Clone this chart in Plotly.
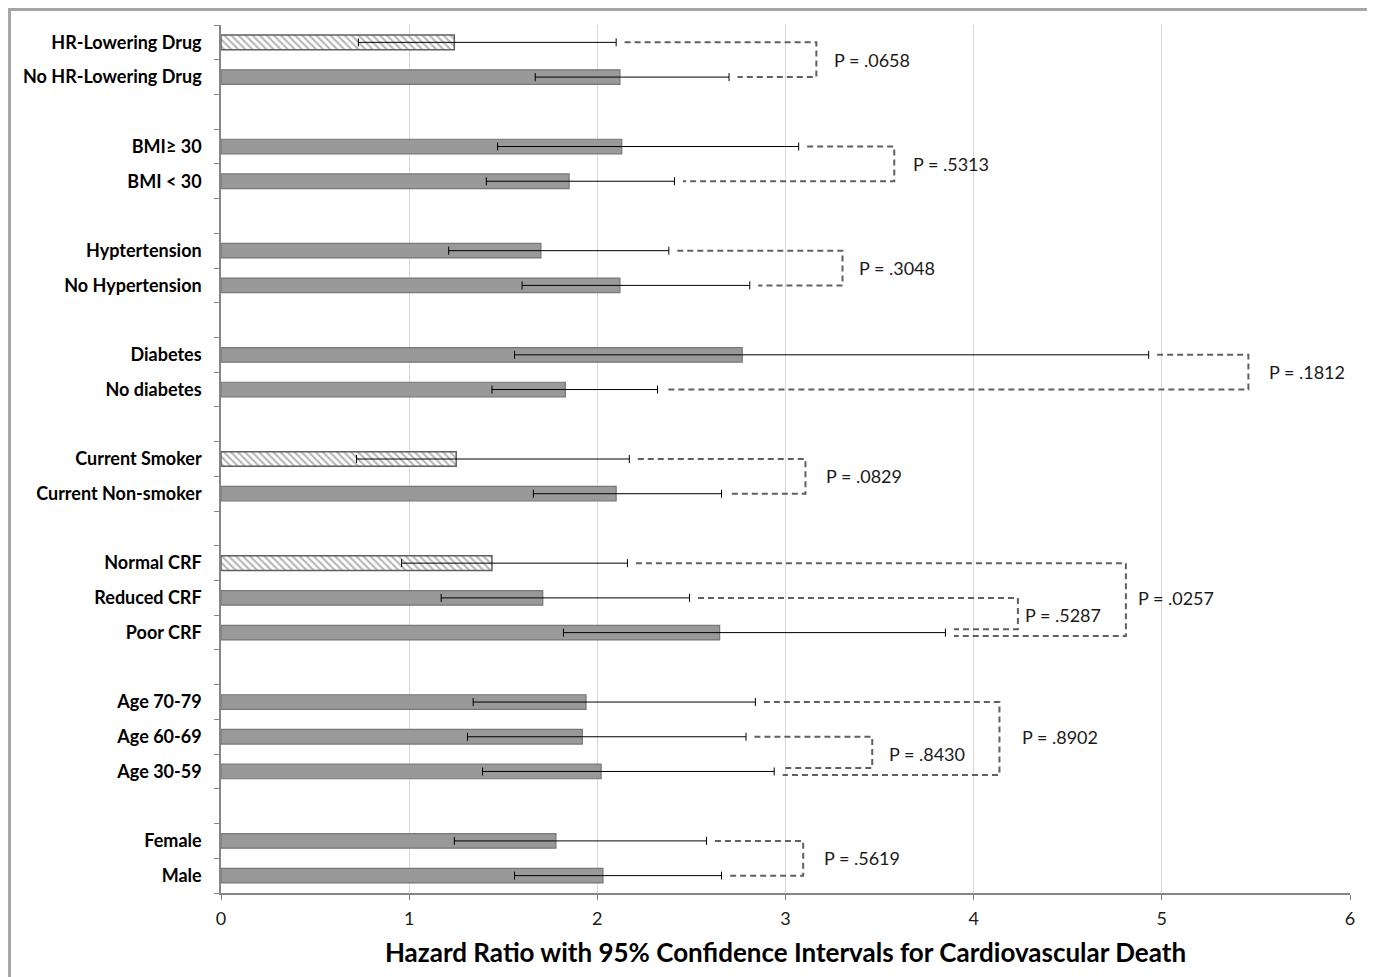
import plotly.graph_objects as go

# ---------------- data ----------------
labels = ["HR-Lowering Drug", "No HR-Lowering Drug",
          "BMI\u2265 30", "BMI < 30",
          "Hyptertension", "No Hypertension",
          "Diabetes", "No diabetes",
          "Current Smoker", "Current Non-smoker",
          "Normal CRF", "Reduced CRF", "Poor CRF",
          "Age 70-79", "Age 60-69", "Age 30-59",
          "Female", "Male"]
group_sizes = [2, 2, 2, 2, 2, 3, 3, 2]
hazard = [1.24, 2.12, 2.13, 1.85, 1.70, 2.12, 2.77, 1.83, 1.25, 2.10,
          1.44, 1.71, 2.65, 1.94, 1.92, 2.02, 1.78, 2.03]
ci_low = [0.73, 1.67, 1.47, 1.41, 1.21, 1.60, 1.56, 1.44, 0.72, 1.66,
          0.96, 1.17, 1.82, 1.34, 1.31, 1.39, 1.24, 1.56]
ci_high = [2.10, 2.70, 3.07, 2.41, 2.38, 2.81, 4.93, 2.32, 2.17, 2.66,
           2.16, 2.49, 3.85, 2.84, 2.79, 2.94, 2.58, 2.66]
hatched = [True, False, False, False, False, False, False, False, True, False,
           True, False, False, False, False, False, False, False]

# comparisons: first row, second row, bracket x, p-value text
cmp_first = [0, 2, 4, 6, 8, 11, 10, 14, 13, 16]
cmp_second = [1, 3, 5, 7, 9, 12, 12, 15, 15, 17]
cmp_bracket = [3.164, 3.578, 3.303, 5.46, 3.106, 4.235, 4.809, 3.461, 4.137, 3.094]
cmp_text = ["P = .0658", "P = .5313", "P = .3048", "P = .1812", "P = .0829",
            "P = .5287", "P = .0257", "P = .8430", "P = .8902", "P = .5619"]
cmp_end_shift = [0, 0, 0, 0, 0, -0.1, 0.1, -0.1, 0.1, 0]
cmp_text_gap = [16, 17, 14, 19, 19, 5, 10, 15, 21, 19]

x_ticks = [0, 1, 2, 3, 4, 5, 6]
x_title = "Hazard Ratio with 95% Confidence Intervals for Cardiovascular Death"

# ---------------- layout of rows ----------------
ypos = []
slot = 0
for g in group_sizes:
    for _ in range(g):
        ypos.append(slot)
        slot += 1
    slot += 1
last = ypos[-1]
boundaries = [i - 0.5 for i in range(last + 2)]

FONT = "Lato"
fig = go.Figure()

for is_hatch in (False, True):
    idx = [i for i in range(len(labels)) if hatched[i] == is_hatch]
    marker = dict(color="#999999", line=dict(color="#777777", width=1.2))
    if is_hatch:
        marker = dict(color="white", line=dict(color="#5f5f5f", width=1.5),
                      pattern=dict(shape="\\", fgcolor="#6e6e6e", bgcolor="white",
                                   size=5, solidity=0.42))
    fig.add_trace(go.Bar(
        y=[ypos[i] for i in idx], x=[hazard[i] for i in idx], orientation="h",
        width=0.42, marker=marker, showlegend=False,
        error_x=dict(type="data", symmetric=False,
                     array=[ci_high[i] - hazard[i] for i in idx],
                     arrayminus=[hazard[i] - ci_low[i] for i in idx],
                     color="black", thickness=1, width=4),
        hoverinfo="skip"))

gap = 0.045
dash_style = dict(color="#606060", width=2, dash="6px,4px")
for a, b, bx, txt, sh, tg in zip(cmp_first, cmp_second, cmp_bracket, cmp_text,
                                  cmp_end_shift, cmp_text_gap):
    ya = ypos[a]
    yb = ypos[b] + sh
    fig.add_trace(go.Scatter(
        x=[ci_high[a] + gap, bx, bx, ci_high[b] + gap],
        y=[ya, ya, yb, yb], mode="lines", line=dash_style,
        showlegend=False, hoverinfo="skip"))
    fig.add_annotation(x=bx, y=(ya + ypos[b]) / 2, text=txt, showarrow=False,
                       xanchor="left", yanchor="middle", xshift=tg,
                       font=dict(family=FONT, size=18, color="#1a1a1a"))

# the page body adds an 8px margin; the figure is sized to fill the rest
fig.update_layout(
    width=1367, height=969,
    margin=dict(l=213, r=25, t=17, b=84),
    paper_bgcolor="white", plot_bgcolor="white",
    barmode="overlay",
    xaxis=dict(range=[0, 6], tickvals=x_ticks, ticks="outside", ticklen=5,
               tickcolor="#868686", showgrid=True, gridcolor="#d9d9d9",
               gridwidth=1, zeroline=False, showline=True, linecolor="#868686",
               linewidth=1.5, ticklabelstandoff=4,
               tickfont=dict(family=FONT, size=18, color="#1a1a1a"),
               title=dict(text=x_title, standoff=15,
                          font=dict(family=FONT, size=26, color="black", weight="bold"))),
    yaxis=dict(range=[last + 0.5, -0.5], tickvals=ypos, ticktext=labels,
               ticks="", showgrid=False, zeroline=False, showline=True,
               linecolor="#868686", linewidth=1.5, ticklabelstandoff=14,
               tickfont=dict(family=FONT, size=18, color="black", weight="bold"),
               minor=dict(tickmode="array", tickvals=boundaries, ticks="outside",
                          ticklen=5, tickcolor="#868686", showgrid=False)),
    shapes=[dict(type="rect", xref="paper", yref="paper",
                 x0=-0.1873, x1=1.0177, y0=-0.15, y1=1.0178,
                 line=dict(color="#a6a6a6", width=3), fillcolor="rgba(0,0,0,0)",
                 layer="below")],
)

fig.write_html("out.html")
